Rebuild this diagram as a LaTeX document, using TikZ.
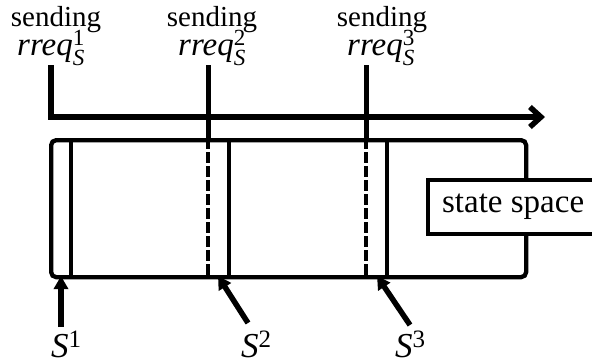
\documentclass[tikz,border=0pt]{standalone}
\usepackage{amsmath}
\usepackage{fontspec}
\setmainfont{Liberation Serif}
\usetikzlibrary{arrows.meta}
\begin{document}
\begin{tikzpicture}[x=1pt,y=-1pt,
  frame/.style={draw, line width=4.3pt, rounded corners=5pt, inner sep=0pt},
  band/.style={line width=3.3pt},
  cutline/.style={line width=3.8pt, dash pattern=on 11pt off 3pt},
  tickline/.style={line width=5pt},
  timeaxis/.style={line width=5.5pt, -{Straight Barb[length=11pt,width=20pt,line width=5.5pt]}},
  pointer/.style={line width=5.5pt, -{Triangle[length=13pt,width=14pt]}},
  lbl/.style={font=\fontsize{29}{32}\selectfont, inner sep=0pt, anchor=base},
  qlbl/.style={font=\fontsize{33}{36}\selectfont, inner sep=0pt, anchor=base},
  slbl/.style={font=\fontsize{35}{37}\selectfont, inner sep=0pt, anchor=base}]
\useasboundingbox (0,0) rectangle (592,360);
\clip (0,0) rectangle (592,360);

% state space box
\node[frame, minimum width=475pt, minimum height=137pt, anchor=north west] (space) at (49,138) {};

% band boundaries
\draw[band] (71,138) -- (71,275);
\draw[band] (229,138) -- (229,275);
\draw[band] (387,138) -- (387,275);
\draw[cutline] (208,138) -- (208,275);
\draw[cutline] (366,138) -- (366,275);

% caption box running past the right edge
\node[draw, line width=4.3pt, fill=white, anchor=west, inner xsep=14pt,
  minimum height=54pt, font=\fontsize{33}{35}\selectfont] (ss) at (426,207) {state space\hspace*{20pt}};

% send events and time axis
\node[lbl] (send1) at (56,26) {sending};
\node[lbl] (send2) at (212,26) {sending};
\node[lbl] (send3) at (382,26) {sending};
\node[qlbl] (rq1) at (51,55) {\textit{rreq}$^{\textrm{1}}_{\textit{S}}$};
\node[qlbl] (rq2) at (212,55) {\textit{rreq}$^{\textrm{2}}_{\textit{S}}$};
\node[qlbl] (rq3) at (381,55) {\textit{rreq}$^{\textrm{3}}_{\textit{S}}$};

\coordinate (e1) at (51,65);
\coordinate (e2) at (208,65);
\coordinate (e3) at (366,65);
\coordinate (b2) at (208,138);
\coordinate (b3) at (366,138);
\coordinate (tip) at (545,117);

\draw[timeaxis] (e1) |- (tip);
\draw[tickline] (e2) -- (b2);
\draw[tickline] (e3) -- (b3);

% state labels with pointers
\node[slbl] (s1) at (66,357) {\textit{S}\raisebox{10pt}{\fontsize{25}{27}\selectfont 1}};
\node[slbl] (s2) at (256,357) {\textit{S}\raisebox{10pt}{\fontsize{25}{27}\selectfont 2}};
\node[slbl] (s3) at (410,357) {\textit{S}\raisebox{10pt}{\fontsize{25}{27}\selectfont 3}};

\coordinate (f1) at (61,327);
\coordinate (f2) at (248,323);
\coordinate (f3) at (410,325);
\coordinate (h1) at (61,276);
\coordinate (h2) at (218,276);
\coordinate (h3) at (377,276);

\draw[pointer] (f1) -- (h1);
\draw[pointer] (f2) -- (h2);
\draw[pointer] (f3) -- (h3);
\end{tikzpicture}
\end{document}
